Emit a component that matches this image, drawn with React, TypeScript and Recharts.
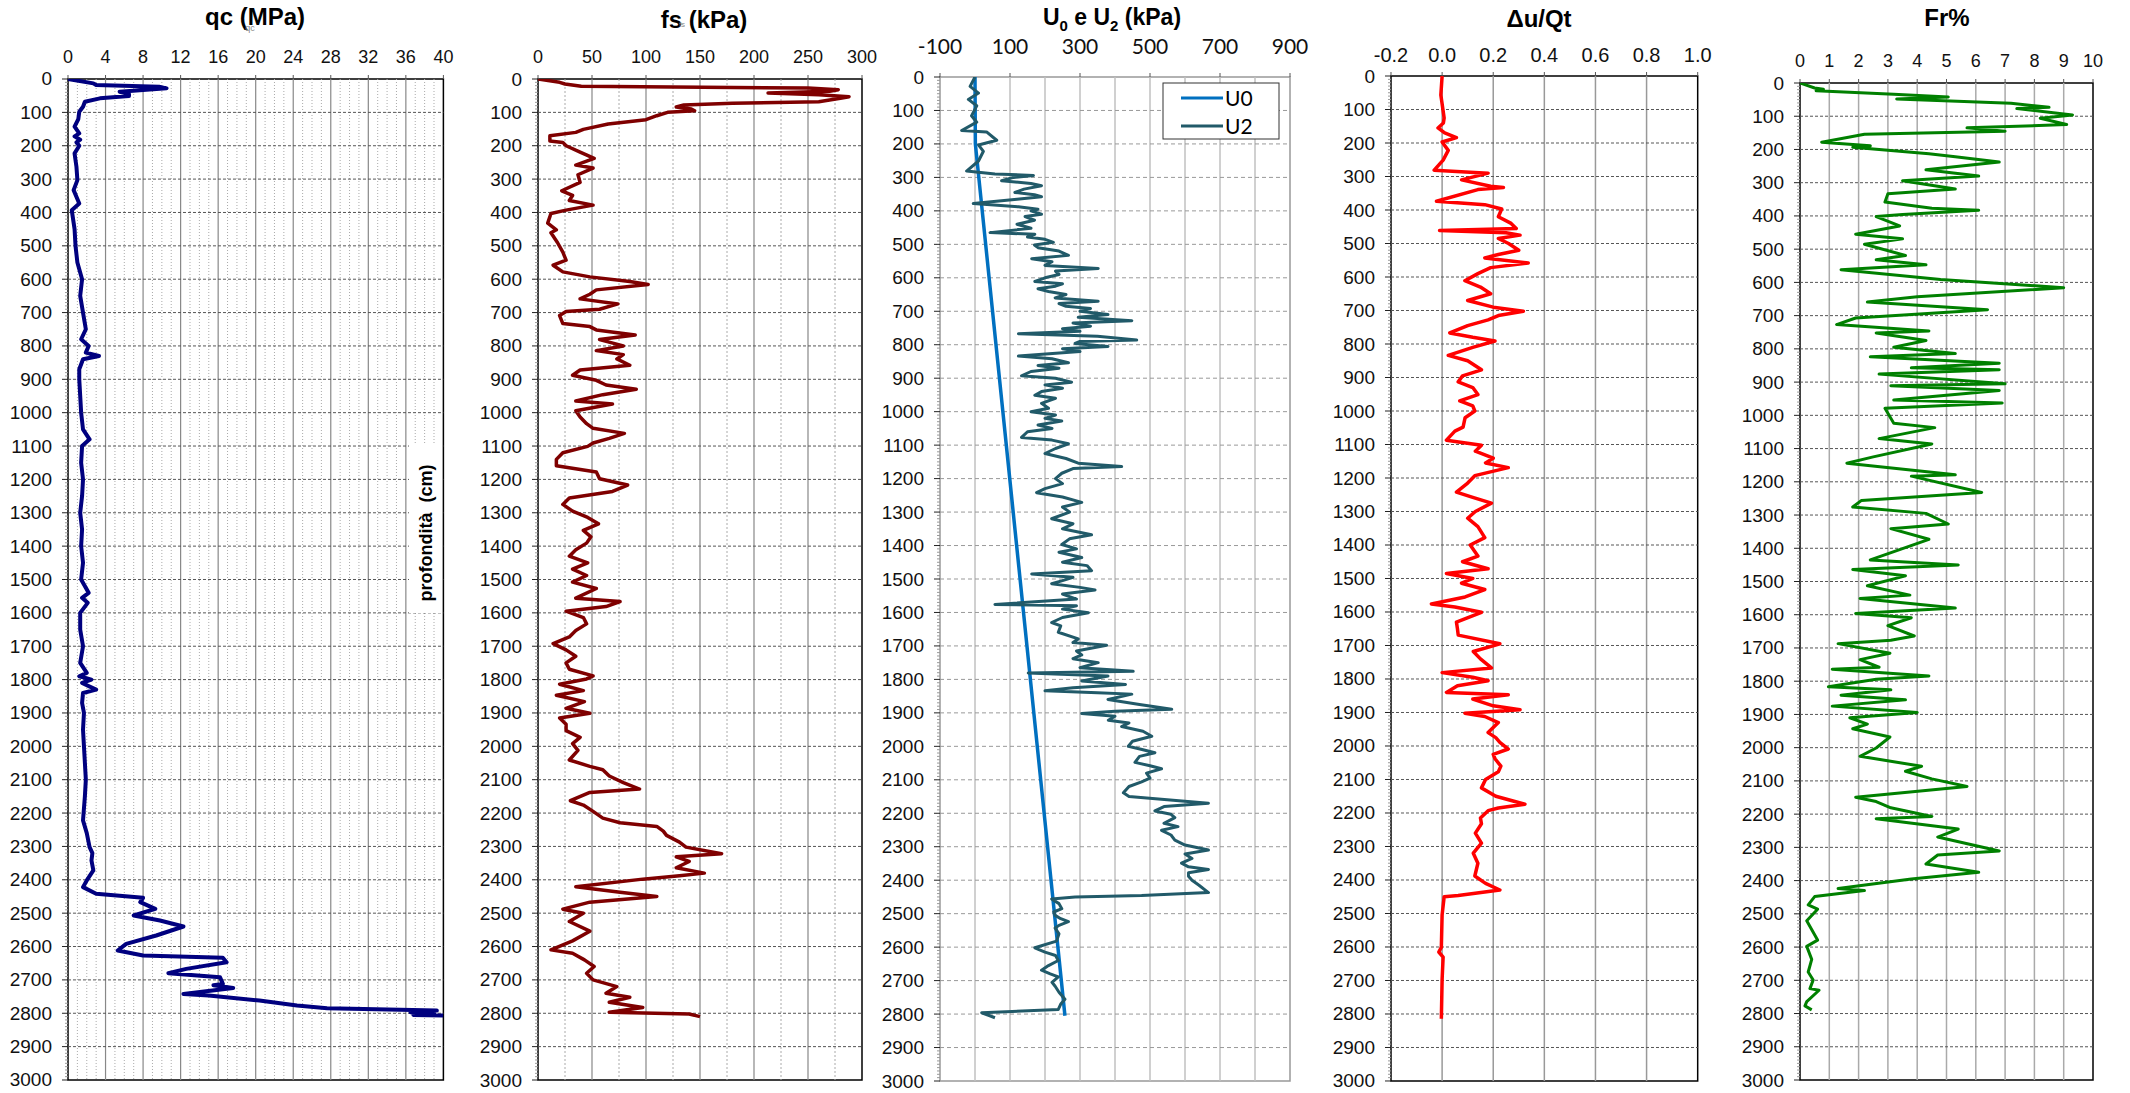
import React from "react";
import { ScatterChart, Scatter, XAxis, YAxis, ReferenceLine, ReferenceArea } from "recharts";

const PAGE_W = 2130;
const PAGE_H = 1093;
const ARIAL = '"Liberation Sans", Arial, sans-serif';
const CALIBRI = 'Lato, "Liberation Sans", sans-serif';

// every profile: [depth cm, value]
const qcProfile: [number, number][] = [
  [0, 0], [13, 2.7], [18, 3.0], [23, 9.7], [28, 10.5], [33, 8], [38, 5.5], [45, 6.5], [51, 6.5], [58, 3.4],
  [68, 1.8], [83, 1.6], [98, 1.2], [120, 1.1], [143, 0.7], [163, 1.2], [172, 0.7], [182, 1.3], [190, 0.9],
  [200, 1.2], [223, 0.7], [263, 0.9], [303, 1.0], [333, 0.6], [373, 1.2], [393, 0.4], [450, 0.7], [500, 0.8],
  [550, 1.0], [600, 1.5], [650, 1.3], [700, 1.6], [750, 1.9], [780, 1.4], [800, 2.2], [820, 1.9], [830, 3.3],
  [840, 1.6], [870, 1.2], [900, 1.2], [950, 1.3], [1000, 1.4], [1050, 1.6], [1080, 2.3], [1100, 1.5],
  [1150, 1.4], [1200, 1.6], [1250, 1.5], [1300, 1.3], [1350, 1.5], [1400, 1.4], [1450, 1.6], [1500, 1.4],
  [1540, 2.2], [1555, 1.5], [1570, 2.1], [1600, 1.3], [1650, 1.3], [1700, 1.6], [1750, 1.3], [1780, 2.0],
  [1790, 1.2], [1800, 2.5], [1810, 1.5], [1830, 3.0], [1840, 1.6], [1870, 1.5], [1900, 1.7], [1950, 1.6],
  [2000, 1.7], [2050, 1.8], [2100, 1.9], [2150, 1.8], [2222, 1.6], [2260, 2.0], [2302, 2.3], [2320, 2.6],
  [2342, 2.5], [2372, 2.7], [2402, 2.0], [2422, 1.6], [2442, 3.0], [2454, 8], [2467, 7.7], [2487, 9.3],
  [2507, 7], [2522, 9.8], [2540, 12.3], [2567, 9.4], [2592, 6.2], [2612, 5.3], [2627, 8], [2634, 16.5],
  [2647, 16.9], [2667, 12.6], [2680, 10.7], [2692, 16.2], [2712, 16.5], [2716, 15.5], [2724, 17.6],
  [2742, 12.3], [2747, 15], [2762, 20.4], [2777, 24.4], [2785, 27.6], [2792, 39.3], [2797, 36.5],
  [2800, 39], [2805, 36.8], [2807, 40],
];

const fsProfile: [number, number][] = [
  [0, 0], [10, 20], [15, 25], [22, 40], [27, 250], [32, 278], [37, 270], [42, 213], [47, 260], [53, 288],
  [58, 280], [68, 260], [73, 180], [78, 135], [84, 128], [90, 142], [95, 145], [100, 120], [110, 110],
  [122, 100], [135, 65], [151, 42], [160, 35], [170, 11], [186, 11], [190, 23], [200, 26], [219, 39],
  [238, 52], [258, 35], [267, 51], [287, 37], [310, 39], [335, 22], [349, 32], [364, 29], [378, 51],
  [393, 26], [403, 12], [432, 9], [452, 17], [461, 12], [490, 18], [519, 23], [543, 26], [558, 14],
  [578, 23], [593, 48], [607, 85], [616, 102], [632, 54], [645, 48], [659, 39], [674, 74], [690, 57],
  [697, 26], [709, 20], [733, 23], [742, 48], [752, 54], [767, 90], [781, 57], [800, 79], [814, 54],
  [826, 79], [839, 73], [858, 85], [872, 39], [888, 32], [903, 54], [917, 63], [930, 91], [946, 60],
  [965, 35], [974, 69], [994, 35], [1013, 39], [1033, 45], [1047, 51], [1062, 80], [1077, 66], [1091, 51],
  [1101, 46], [1120, 23], [1140, 17], [1159, 17], [1178, 54], [1198, 57], [1217, 83], [1236, 69],
  [1256, 29], [1275, 23], [1295, 32], [1314, 46], [1333, 56], [1353, 42], [1372, 49], [1391, 45],
  [1411, 35], [1430, 29], [1450, 46], [1469, 32], [1488, 45], [1508, 32], [1527, 54], [1556, 35],
  [1566, 76], [1581, 63], [1595, 26], [1614, 42], [1633, 45], [1653, 35], [1672, 29], [1692, 14],
  [1711, 26], [1730, 35], [1750, 26], [1769, 29], [1789, 51], [1798, 45], [1814, 20], [1833, 42],
  [1847, 17], [1866, 43], [1886, 26], [1901, 48], [1915, 20], [1934, 26], [1953, 26], [1973, 39],
  [1992, 32], [2012, 37], [2041, 29], [2060, 48], [2070, 60], [2089, 66], [2109, 79], [2128, 94],
  [2138, 48], [2163, 30], [2176, 42], [2195, 51], [2215, 60], [2229, 76], [2240, 110], [2254, 116],
  [2267, 119], [2287, 131], [2302, 137], [2322, 170], [2331, 128], [2345, 140], [2364, 128], [2380, 154],
  [2388, 131], [2398, 97], [2421, 35], [2437, 76], [2450, 110], [2467, 48], [2488, 23], [2500, 42],
  [2525, 29], [2554, 48], [2583, 32], [2610, 12], [2620, 32], [2640, 43], [2660, 52], [2680, 45],
  [2700, 51], [2720, 73], [2740, 63], [2752, 85], [2767, 66], [2783, 97], [2797, 66], [2802, 140],
  [2810, 150],
];

const u0Profile: [number, number][] = [[0, 0], [200, 1], [2805, 257]];

const u2Profile: [number, number][] = [
  [0, 0], [28, -14], [48, 10], [67, -19], [86, 5], [116, -10], [135, 5], [160, -38], [164, 33], [189, 62],
  [203, 10], [222, 24], [251, 10], [281, -24], [290, 57], [294, 167], [300, 110], [310, 76], [318, 160],
  [325, 190], [335, 140], [345, 114], [352, 170], [358, 190], [365, 120], [378, -5], [388, 124], [395, 180],
  [400, 160], [410, 190], [417, 143], [428, 170], [440, 120], [452, 160], [465, 43], [470, 171], [478, 150],
  [485, 200], [494, 224], [502, 170], [510, 180], [520, 240], [533, 267], [543, 162], [552, 220], [563, 200],
  [572, 352], [580, 230], [590, 240], [600, 200], [611, 171], [618, 250], [625, 230], [633, 180], [641, 210],
  [650, 260], [660, 229], [670, 352], [677, 240], [685, 260], [692, 330], [700, 300], [710, 380], [718, 295],
  [728, 448], [735, 280], [745, 330], [752, 250], [760, 300], [767, 124], [775, 350], [786, 462], [790, 300],
  [796, 286], [805, 380], [812, 250], [820, 300], [834, 124], [842, 220], [854, 267], [862, 180], [870, 240],
  [880, 160], [893, 133], [900, 230], [912, 276], [920, 200], [930, 250], [940, 190], [951, 171], [960, 230],
  [975, 190], [990, 210], [1000, 160], [1010, 230], [1020, 200], [1028, 248], [1040, 180], [1050, 220],
  [1060, 150], [1077, 133], [1085, 220], [1096, 267], [1110, 230], [1125, 200], [1140, 260], [1154, 295],
  [1164, 419], [1170, 280], [1184, 248], [1200, 230], [1215, 250], [1230, 200], [1242, 176], [1255, 250],
  [1271, 305], [1285, 250], [1300, 270], [1320, 219], [1335, 280], [1350, 250], [1368, 333], [1380, 270],
  [1397, 248], [1410, 290], [1420, 240], [1436, 305], [1450, 250], [1460, 320], [1475, 333], [1485, 162],
  [1495, 280], [1505, 250], [1514, 219], [1525, 300], [1533, 343], [1545, 250], [1560, 290], [1576, 57],
  [1580, 290], [1590, 250], [1601, 324], [1615, 250], [1630, 219], [1640, 245], [1659, 238], [1679, 295],
  [1690, 280], [1698, 376], [1715, 290], [1727, 305], [1738, 280], [1750, 352], [1765, 300], [1776, 452],
  [1781, 152], [1790, 380], [1805, 305], [1815, 430], [1825, 280], [1834, 200], [1840, 350], [1844, 448],
  [1860, 380], [1875, 470], [1889, 562], [1895, 400], [1902, 305], [1910, 400], [1922, 381], [1930, 440],
  [1941, 419], [1955, 480], [1970, 505], [1985, 450], [2000, 438], [2010, 480], [2019, 514], [2030, 470],
  [2048, 457], [2058, 500], [2067, 533], [2080, 490], [2095, 500], [2106, 476], [2120, 440], [2139, 424],
  [2150, 440], [2170, 667], [2180, 540], [2193, 514], [2203, 560], [2213, 571], [2230, 540], [2240, 580],
  [2251, 533], [2265, 560], [2280, 571], [2295, 600], [2310, 667], [2322, 600], [2335, 620], [2349, 590],
  [2360, 610], [2368, 667], [2378, 610], [2388, 610], [2400, 620], [2415, 640], [2437, 667], [2446, 476],
  [2450, 286], [2456, 219], [2470, 240], [2485, 248], [2495, 225], [2505, 229], [2515, 245], [2524, 267],
  [2535, 240], [2543, 229], [2560, 240], [2582, 233], [2602, 171], [2615, 200], [2625, 230], [2640, 238],
  [2655, 210], [2669, 190], [2680, 215], [2689, 238], [2705, 220], [2717, 229], [2735, 240], [2756, 257],
  [2770, 245], [2786, 238], [2796, 19], [2811, 57],
];

const duProfile: [number, number][] = [
  [0, 0], [57, -0.005], [125, 0.008], [140, 0.005], [155, -0.016], [170, 0.01], [184, 0.056], [197, 0],
  [222, 0.024], [251, 0.004], [281, -0.031], [290, 0.18], [310, 0.076], [329, 0.19], [333, 0.24],
  [339, 0.14], [374, -0.022], [384, 0.167], [397, 0.233], [420, 0.22], [440, 0.27], [455, 0.29],
  [461, -0.01], [468, 0.25], [475, 0.305], [485, 0.22], [500, 0.26], [520, 0.3], [533, 0.22], [543, 0.167],
  [558, 0.337], [572, 0.19], [590, 0.14], [611, 0.089], [630, 0.15], [650, 0.19], [670, 0.1], [690, 0.2],
  [702, 0.318], [715, 0.22], [728, 0.18], [745, 0.1], [767, 0.03], [780, 0.12], [791, 0.207], [810, 0.12],
  [834, 0.024], [850, 0.1], [877, 0.154], [895, 0.08], [913, 0.063], [930, 0.12], [951, 0.14], [970, 0.069],
  [985, 0.12], [1000, 0.128], [1020, 0.09], [1048, 0.082], [1060, 0.05], [1087, 0.017], [1102, 0.154],
  [1120, 0.13], [1141, 0.2], [1155, 0.17], [1169, 0.259], [1193, 0.128], [1215, 0.1], [1242, 0.056],
  [1258, 0.12], [1275, 0.193], [1300, 0.13], [1320, 0.1], [1345, 0.14], [1378, 0.167], [1400, 0.11],
  [1433, 0.14], [1450, 0.08], [1471, 0.18], [1485, 0.017], [1500, 0.12], [1514, 0.076], [1533, 0.167],
  [1555, 0.09], [1576, -0.042], [1585, 0.05], [1601, 0.154], [1630, 0.056], [1650, 0.06], [1669, 0.063],
  [1695, 0.226], [1718, 0.122], [1740, 0.15], [1767, 0.193], [1781, 0], [1795, 0.12], [1805, 0.18],
  [1820, 0.06], [1840, 0.017], [1847, 0.259], [1860, 0.12], [1880, 0.2], [1892, 0.305], [1902, 0.089],
  [1912, 0.167], [1930, 0.22], [1960, 0.18], [1975, 0.21], [1989, 0.226], [2009, 0.259], [2025, 0.2],
  [2038, 0.207], [2060, 0.23], [2077, 0.22], [2100, 0.17], [2125, 0.154], [2150, 0.21], [2174, 0.324],
  [2185, 0.22], [2193, 0.18], [2215, 0.15], [2232, 0.154], [2260, 0.13], [2290, 0.154], [2320, 0.122],
  [2350, 0.14], [2388, 0.128], [2410, 0.17], [2430, 0.226], [2446, 0.063], [2450, 0.008], [2504, 0],
  [2601, -0.003], [2615, -0.013], [2630, 0.004], [2697, 0], [2814, -0.003],
];

const frProfile: [number, number][] = [
  [0, 0], [15, 0.5], [19, 0.8], [23, 0.55], [34, 3.2], [42, 5.06], [48, 3.3], [61, 7.2], [73, 8.5],
  [77, 7.4], [96, 9.3], [106, 8.2], [125, 9.1], [135, 5.7], [145, 7.0], [154, 2.2], [178, 0.74], [189, 2.4],
  [193, 1.8], [203, 3.1], [213, 4.4], [222, 5.3], [238, 6.8], [261, 4.3], [280, 6.1], [294, 3.5], [319, 5.3],
  [333, 3.0], [358, 2.9], [377, 4.5], [383, 6.1], [396, 3.5], [402, 2.6], [430, 3.4], [455, 1.9], [469, 3.5],
  [485, 2.2], [519, 3.6], [532, 2.6], [547, 4.3], [562, 1.4], [591, 4.8], [616, 9.0], [643, 4.0], [659, 2.3],
  [682, 6.4], [707, 1.9], [727, 1.25], [746, 4.4], [752, 2.6], [775, 4.3], [795, 3.2], [814, 5.3], [824, 2.4],
  [843, 6.8], [857, 3.8], [863, 6.8], [876, 2.7], [905, 7.0], [911, 3.1], [925, 6.8], [954, 3.2], [963, 6.9],
  [979, 2.9], [1024, 3.2], [1037, 4.6], [1070, 2.7], [1086, 4.5], [1125, 2.5], [1144, 1.6], [1179, 5.3],
  [1183, 3.8], [1232, 6.2], [1256, 2.1], [1276, 1.8], [1295, 4.3], [1327, 5.06], [1341, 3.1], [1373, 4.4],
  [1435, 2.4], [1450, 5.4], [1464, 1.8], [1483, 3.6], [1513, 2.3], [1541, 3.75], [1551, 2.05], [1580, 5.3],
  [1596, 1.9], [1609, 3.8], [1633, 3.0], [1664, 3.9], [1677, 3.1], [1687, 1.3], [1716, 3.07], [1735, 2.05],
  [1758, 2.7], [1764, 1.1], [1784, 4.4], [1794, 2.6], [1817, 0.97], [1826, 3.1], [1842, 1.4], [1856, 3.6],
  [1875, 1.1], [1894, 4.0], [1910, 1.7], [1929, 2.3], [1943, 1.8], [1968, 3.07], [2001, 2.6], [2026, 2.05],
  [2056, 4.15], [2071, 3.6], [2094, 4.5], [2117, 5.7], [2149, 1.9], [2162, 2.6], [2181, 3.1], [2207, 4.5],
  [2214, 2.6], [2245, 5.4], [2269, 4.7], [2311, 6.8], [2323, 4.7], [2350, 4.3], [2375, 6.1], [2395, 3.8],
  [2424, 1.3], [2430, 2.2], [2448, 0.5], [2473, 0.28], [2486, 0.6], [2521, 0.23], [2579, 0.6], [2598, 0.23],
  [2637, 0.4], [2675, 0.28], [2699, 0.45], [2725, 0.34], [2730, 0.65], [2764, 0.23], [2777, 0.17],
  [2789, 0.4],
];

// axis labels
const qcTicks = [0, 4, 8, 12, 16, 20, 24, 28, 32, 36, 40];
const fsTicks = [0, 50, 100, 150, 200, 250, 300];
const uTicks = [-100, 100, 300, 500, 700, 900];
const duTicks = [-0.2, 0, 0.2, 0.4, 0.6, 0.8, 1.0];
const frTicks = [0, 1, 2, 3, 4, 5, 6, 7, 8, 9, 10];
const depthTicks = Array.from({ length: 301 }, (_, i) => i * 10);
const depthGrid = Array.from({ length: 29 }, (_, i) => (i + 1) * 100);

type Grid = { values: number[]; stroke: string; width: number; dash?: string };
type Series = { points: [number, number][]; color: string; width: number };

type PanelProps = {
  plotLeft: number;
  plotRight: number;
  plotTop: number;
  plotBottom: number;
  domain: [number, number];
  ticks: number[];
  format?: (v: number) => string;
  tickFont: string;
  tickSize: number;
  tickGap: number;
  vGrids: Grid[];
  hGrid: Grid;
  frame: string;
  series: Series[];
};

const AXIS_W = 80;

const DepthTick = (props: any) => {
  const { x, y, payload } = props;
  const v = payload.value as number;
  const major = v % 100 === 0;
  return (
    <g>
      <line x1={x - (major ? 6 : 3)} x2={x} y1={y} y2={y} stroke={major ? "#222" : "#999"} strokeWidth={1} />
      {major && (
        <text x={x - 16} y={y + 6.5} textAnchor="end" fontFamily={ARIAL} fontSize={19} fill="#111">
          {v}
        </text>
      )}
    </g>
  );
};

function Panel(p: PanelProps) {
  const width = p.plotRight - p.plotLeft + AXIS_W + 20;
  const fmt = p.format ?? ((v: number) => String(v));
  const TopTick = (props: any) => {
    const { x, y, payload } = props;
    return (
      <g>
        <line x1={x} x2={x} y1={y} y2={y - 4} stroke="#555" strokeWidth={1} />
        <text x={x} y={y - p.tickGap} textAnchor="middle" fontFamily={p.tickFont} fontSize={p.tickSize} fill="#111">
          {fmt(payload.value)}
        </text>
      </g>
    );
  };
  return (
    <div style={{ position: "absolute", left: p.plotLeft - AXIS_W, top: 0 }}>
      <ScatterChart
        width={width}
        height={PAGE_H}
        margin={{ top: p.plotTop - 40, right: 20, bottom: PAGE_H - p.plotBottom, left: 0 }}
      >
        <XAxis
          type="number"
          dataKey="x"
          orientation="top"
          domain={p.domain}
          ticks={p.ticks}
          interval={0}
          height={40}
          axisLine={false}
          tickLine={false}
          tickSize={0}
          tickMargin={0}
          tick={TopTick}
          allowDataOverflow
        />
        <YAxis
          type="number"
          dataKey="y"
          reversed
          domain={[0, 3000]}
          ticks={depthTicks}
          interval={0}
          width={AXIS_W}
          axisLine={false}
          tickLine={false}
          tickSize={0}
          tickMargin={0}
          tick={DepthTick}
          allowDataOverflow
        />
        {p.vGrids.map((g, gi) =>
          g.values.map((v) => (
            <ReferenceLine
              key={`v${gi}-${v}`}
              x={v}
              stroke={g.stroke}
              strokeWidth={g.width}
              strokeDasharray={g.dash}
            />
          ))
        )}
        {p.hGrid.values.map((v) => (
          <ReferenceLine
            key={`h${v}`}
            y={v}
            stroke={p.hGrid.stroke}
            strokeWidth={p.hGrid.width}
            strokeDasharray={p.hGrid.dash}
          />
        ))}
        <ReferenceArea
          x1={p.domain[0]}
          x2={p.domain[1]}
          y1={0}
          y2={3000}
          fill="none"
          fillOpacity={0}
          stroke={p.frame}
          strokeWidth={1.5}
        />
        {p.series.map((s, i) => (
          <Scatter
            key={i}
            data={s.points.map(([depth, value]) => ({ x: value, y: depth }))}
            fill={s.color}
            line={{ stroke: s.color, strokeWidth: s.width, strokeLinejoin: "round" }}
            shape={() => <g />}
            isAnimationActive={false}
          />
        ))}
      </ScatterChart>
    </div>
  );
}

const range = (from: number, to: number, step: number, skip?: number) => {
  const out: number[] = [];
  for (let v = from; v <= to + 1e-9; v += step) {
    const r = Math.round(v * 1000) / 1000;
    if (skip && Math.abs(r / skip - Math.round(r / skip)) < 1e-6) continue;
    out.push(r);
  }
  return out;
};

const darkDash: Grid = { values: depthGrid, stroke: "#555", width: 1, dash: "3 2" };
const greyDash: Grid = { values: depthGrid, stroke: "#999", width: 1, dash: "4 3" };

export default function App() {
  return (
    <div style={{ position: "absolute", left: 0, top: 0, width: PAGE_W, height: PAGE_H, background: "#fff" }}>
      <Panel
        plotLeft={68.3}
        plotRight={443.7}
        plotTop={79}
        plotBottom={1080}
        domain={[0, 40]}
        ticks={qcTicks}
        tickFont={ARIAL}
        tickSize={18}
        tickGap={16}
        vGrids={[
          { values: range(1, 39, 1, 4), stroke: "#aaa", width: 1, dash: "1 2" },
          { values: range(4, 36, 4), stroke: "#888", width: 1.2 },
        ]}
        hGrid={darkDash}
        frame="#000"
        series={[{ points: qcProfile, color: "#00007F", width: 4 }]}
      />
      <Panel
        plotLeft={537.7}
        plotRight={861.7}
        plotTop={79}
        plotBottom={1080}
        domain={[0, 300]}
        ticks={fsTicks}
        tickFont={ARIAL}
        tickSize={18}
        tickGap={16}
        vGrids={[
          { values: range(25, 275, 25, 50), stroke: "#aaa", width: 1, dash: "2 2" },
          { values: range(50, 250, 50), stroke: "#888", width: 1.2 },
        ]}
        hGrid={darkDash}
        frame="#000"
        series={[{ points: fsProfile, color: "#7F0000", width: 3.5 }]}
      />
      <Panel
        plotLeft={940}
        plotRight={1290}
        plotTop={77}
        plotBottom={1081}
        domain={[-100, 900]}
        ticks={uTicks}
        tickFont={CALIBRI}
        tickSize={21}
        tickGap={23}
        vGrids={[{ values: range(0, 800, 100), stroke: "#c0c0c0", width: 1.5 }]}
        hGrid={greyDash}
        frame="#999"
        series={[
          { points: u0Profile, color: "#0070C0", width: 3.5 },
          { points: u2Profile, color: "#215A69", width: 3 },
        ]}
      />
      <Panel
        plotLeft={1391}
        plotRight={1697.7}
        plotTop={76}
        plotBottom={1081}
        domain={[-0.2, 1.0]}
        ticks={duTicks}
        format={(v) => v.toFixed(1)}
        tickFont={ARIAL}
        tickSize={20}
        tickGap={14}
        vGrids={[{ values: [0, 0.2, 0.4, 0.6, 0.8], stroke: "#999", width: 1.5 }]}
        hGrid={darkDash}
        frame="#000"
        series={[{ points: duProfile, color: "#FF0000", width: 3.5 }]}
      />
      <Panel
        plotLeft={1800}
        plotRight={2093}
        plotTop={83}
        plotBottom={1080}
        domain={[0, 10]}
        ticks={frTicks}
        tickFont={ARIAL}
        tickSize={18}
        tickGap={16}
        vGrids={[{ values: range(1, 9, 1), stroke: "#aaa", width: 1.5 }]}
        hGrid={darkDash}
        frame="#000"
        series={[{ points: frProfile, color: "#008000", width: 3 }]}
      />

      <svg
        width={PAGE_W}
        height={PAGE_H}
        style={{ position: "absolute", left: 0, top: 0, pointerEvents: "none" }}
      >
        <g fontFamily={ARIAL} fontWeight="bold" fontSize={24} fill="#000" textAnchor="middle">
          <text x={255} y={25}>qc (MPa)</text>
          <text x={704} y={28}>fs (kPa)</text>
          <text x={1539} y={27}>Δu/Qt</text>
          <text x={1947} y={26}>Fr%</text>
        </g>
        <text x={250} y={31} fontFamily={ARIAL} fontSize={9} fill="#888" textAnchor="middle">qc</text>
        <text x={682} y={27} fontFamily={ARIAL} fontSize={8} fill="#888" textAnchor="middle">fs</text>
        <text x={1112} y={25} fontFamily={ARIAL} fontWeight="bold" fontSize={23} textAnchor="middle" fill="#000">
          <tspan>U</tspan>
          <tspan dy={6} fontSize={15}>0</tspan>
          <tspan dy={-6}> e U</tspan>
          <tspan dy={6} fontSize={15}>2</tspan>
          <tspan dy={-6}> (kPa)</tspan>
        </text>

        <rect x={1163} y={83} width={116} height={56} fill="#fff" stroke="#333" strokeWidth={1} />
        <line x1={1181} x2={1223} y1={98} y2={98} stroke="#0070C0" strokeWidth={3} />
        <line x1={1181} x2={1223} y1={126} y2={126} stroke="#215A69" strokeWidth={3} />
        <text x={1225} y={106} fontFamily={CALIBRI} fontSize={21} fill="#000">U0</text>
        <text x={1225} y={134} fontFamily={CALIBRI} fontSize={21} fill="#000">U2</text>

        <rect x={409} y={445} width={33} height={168} fill="#fff" />
        <text
          transform="translate(426,533) rotate(-90)"
          textAnchor="middle"
          dy={6}
          fontFamily={ARIAL}
          fontWeight="bold"
          fontSize={18}
          fill="#000"
        >
          {"profondità\u00a0\u00a0(cm)"}
        </text>
      </svg>
    </div>
  );
}
